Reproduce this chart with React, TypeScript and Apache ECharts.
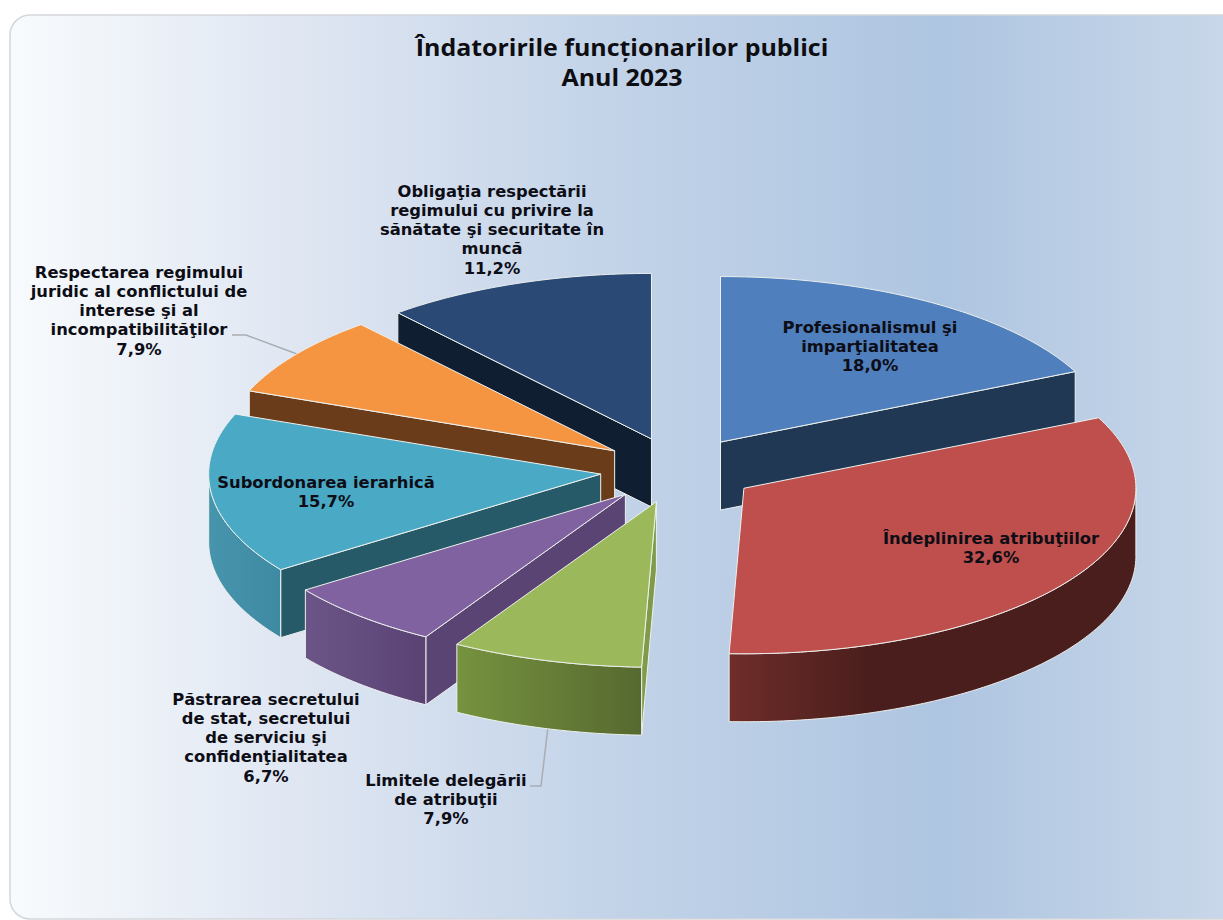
import React, { useEffect, useRef } from "react";
import * as echarts from "echarts";

const titleLines = ["Îndatoririle funcționarilor publici", "Anul 2023"];
const categories = [
  "Profesionalismul şi\nimparţialitatea",
  "Îndeplinirea atribuţiilor",
  "Limitele delegării\nde atribuţii",
  "Păstrarea secretului\nde stat, secretului\nde serviciu şi\nconfidenţialitatea",
  "Subordonarea ierarhică",
  "Respectarea regimului\njuridic al conflictului de\ninterese şi al\nincompatibilităţilor",
  "Obligaţia respectării\nregimului cu privire la\nsănătate şi securitate în\nmuncă",
];
const values = [18.0, 32.6, 7.9, 6.7, 15.7, 7.9, 11.2];

const topColors = ["#4f7fbc", "#be4f4c", "#9bb95a", "#8062a0", "#4aa9c4", "#f59542", "#2a4a75"];
const innerWallColors = ["#213855", "#5a2320", "#7f9b49", "#5a4474", "#265a68", "#6a3c1a", "#0f1f31"];
const outerLight = ["#2f5482", "#6e2d2a", "#76933f", "#6b5588", "#4794ad", "#a86530", "#1c3350"];
const outerDark = ["#2f5482", "#4a1e1c", "#56692f", "#5a4373", "#3f8aa3", "#a86530", "#1c3350"];
const wallFade = [1, 0.35, 1, 1, 1, 1, 1];
const labelAnchors = [
  [870, 347], [991, 548], [446, 800], [266, 738], [326, 492], [139, 311], [492, 230],
];

const PIE = { cx: 678.5, cy: 470, rx: 392, ry: 165.5, depth: 68, explode: 0.2 };
const EDGE = "#eef1ee";
const rad = (d: number) => (d * Math.PI) / 180;

function arcPoints(c: number[], a0: number, a1: number, dy = 0) {
  const pts: number[][] = [];
  const n = Math.max(2, Math.ceil(Math.abs(a1 - a0) * 2));
  for (let i = 0; i <= n; i++) {
    const a = rad(a0 + ((a1 - a0) * i) / n);
    pts.push([c[0] + PIE.rx * Math.sin(a), c[1] - PIE.ry * Math.cos(a) + dy]);
  }
  return pts;
}

function renderSlice(params: any, api: any) {
  const i = params.dataIndex;
  const total = values.reduce((s, v) => s + v, 0);
  const before = values.slice(0, i).reduce((s, v) => s + v, 0);
  const a0 = (before / total) * 360;
  const a1 = a0 + (api.value(0) / total) * 360;
  const mid = rad((a0 + a1) / 2);
  const c = [
    PIE.cx + PIE.rx * PIE.explode * Math.sin(mid),
    PIE.cy - PIE.ry * PIE.explode * Math.cos(mid),
  ];
  const z = Math.round(c[1]) * 10;
  const d = PIE.depth;
  const children: any[] = [];
  const stroke = { stroke: EDGE, lineWidth: 1, lineJoin: "round" };

  const wall = (a: number) => {
    const p = arcPoints(c, a, a, 0)[0];
    children.push({
      type: "polygon",
      z2: z,
      shape: { points: [c, p, [p[0], p[1] + d], [c[0], c[1] + d]] },
      style: { fill: innerWallColors[i], ...stroke },
    });
  };
  if (Math.sin(rad(a0)) < -1e-6) wall(a0);
  if (Math.sin(rad(a1)) > 1e-6) wall(a1);

  const f0 = Math.max(a0, 90);
  const f1 = Math.min(a1, 270);
  if (f1 > f0) {
    const upper = arcPoints(c, f0, f1);
    const lower = arcPoints(c, f1, f0, d);
    const xs = upper.map((p) => p[0]);
    const minX = Math.min(...xs);
    const maxX = Math.max(...xs);
    children.push({
      type: "polygon",
      z2: z + 1,
      shape: { points: upper.concat(lower) },
      style: {
        fill: new echarts.graphic.LinearGradient(
          minX, 0, maxX, 0,
          [
            { offset: 0, color: outerLight[i] },
            { offset: wallFade[i], color: outerDark[i] },
            { offset: 1, color: outerDark[i] },
          ],
          true
        ),
        ...stroke,
      },
    });
  }

  children.push({
    type: "polygon",
    z2: z + 2,
    shape: { points: [c, ...arcPoints(c, a0, a1)] },
    style: { fill: topColors[i], ...stroke },
  });

  const label = labelAnchors[i];
  const pct = api.value(0).toFixed(1).replace(".", ",") + "%";
  children.push({
    type: "text",
    z2: 100000,
    x: label[0],
    y: label[1],
    scaleX: 1.09,
    style: {
      text: categories[i] + "\n" + pct,
      x: 0,
      y: 0,
      align: "center",
      verticalAlign: "middle",
      lineHeight: 19.2,
      font: 'bold 15px "DejaVu Sans"',
      fill: "#0d0d16",
    },
  });
  return { type: "group", children };
}

export default function App() {
  const ref = useRef<HTMLDivElement>(null);
  useEffect(() => {
    document.body.style.margin = "0";
    document.body.style.background = "#ffffff";
    const chart = echarts.init(ref.current!, null, { renderer: "svg" });
    chart.setOption({
      animation: false,
      backgroundColor: "#ffffff",
      graphic: [
        {
          type: "rect",
          z: -10,
          silent: true,
          shape: { x: 10, y: 15, width: 1240, height: 904, r: 20 },
          style: {
            stroke: "#d3d6da",
            lineWidth: 1.5,
            fill: new echarts.graphic.LinearGradient(
              10, 0, 1223, 0,
              [
                { offset: 0, color: "#f8fbfd" },
                { offset: 0.24, color: "#dfe6f2" },
                { offset: 0.5, color: "#c2d3e8" },
                { offset: 0.77, color: "#aec5e1" },
                { offset: 1, color: "#c8d7e9" },
              ],
              true
            ),
          },
        },
        {
          type: "text",
          z: 5,
          silent: true,
          x: 622,
          y: 62,
          scaleX: 1.04,
          style: {
            text: titleLines.join("\n"),
            x: 0,
            y: 0,
            align: "center",
            verticalAlign: "middle",
            lineHeight: 30,
            font: 'bold 24px "Open Sans"',
            fill: "#0d0d12",
          },
        },
        {
          type: "polyline",
          z: 1,
          silent: true,
          shape: { points: [[232, 335], [246, 335], [297, 354]] },
          style: { stroke: "#a9adb3", lineWidth: 1.5, fill: "none" },
        },
        {
          type: "polyline",
          z: 1,
          silent: true,
          shape: { points: [[530, 786], [541, 786], [548, 727]] },
          style: { stroke: "#a9adb3", lineWidth: 1.5, fill: "none" },
        },
      ],
      series: [
        {
          type: "custom",
          coordinateSystem: "none",
          silent: true,
          data: values.map((v) => [v]),
          renderItem: renderSlice,
        },
      ],
    });
    return () => chart.dispose();
  }, []);
  return (
    <div
      ref={ref}
      style={{ position: "absolute", left: 0, top: 0, width: 1223, height: 920 }}
    />
  );
}
